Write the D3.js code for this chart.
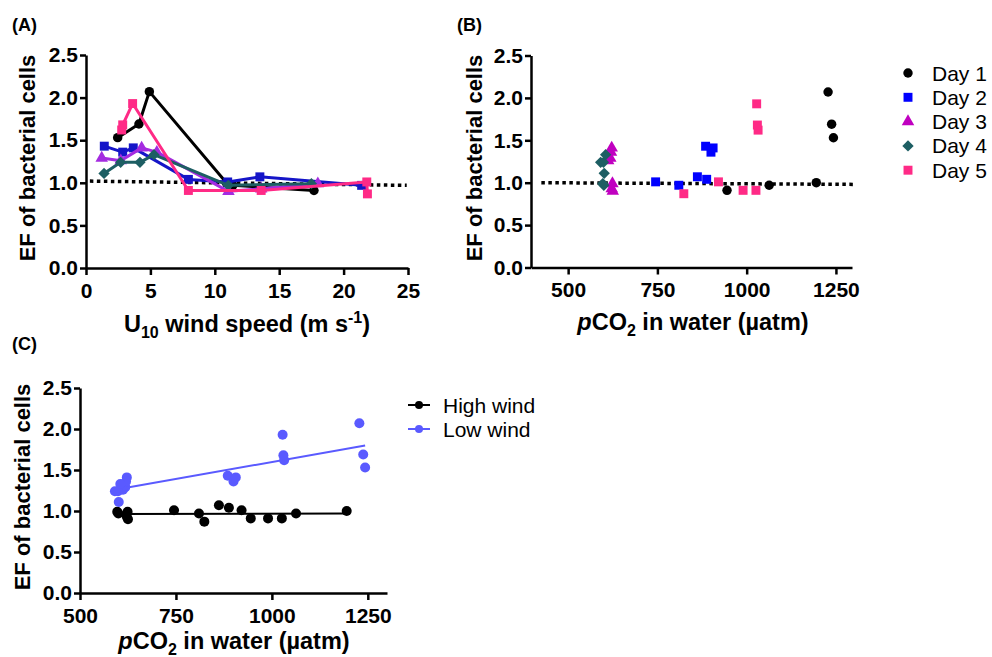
<!DOCTYPE html>
<html>
<head>
<meta charset="utf-8">
<script src="https://cdn.jsdelivr.net/npm/d3@7"></script>
<style>
    body { margin: 0; background: #fff; }
    svg { font-family: "Liberation Sans", Arial, sans-serif; }
    .axis path, .axis line { stroke: #000; stroke-width: 2.5; }
    .axis text { font-size: 21px; font-weight: bold; fill: #000; font-family: "Liberation Sans", Arial, sans-serif; }
</style>
</head>
<body>
<script>
// Day series: wind speed (m/s), pCO2 in water (uatm) and EF
const days = ["Day 1", "Day 2", "Day 3", "Day 4", "Day 5"];

const day1Wind = [2.46, 4.11, 4.92, 10.9, 11.4, 17.7];
const day1Pco2 = [1243, 1238, 1228, 1195, 1063, 945];
const day1Ef   = [1.53, 1.69, 2.07, 1.00, 0.97, 0.91];

const day2Wind = [1.42, 2.85, 3.67, 7.95, 11.0, 13.5, 21.4];
const day2Pco2 = [885, 900, 906, 888, 745, 862, 810];
const day2Ef   = [1.43, 1.36, 1.41, 1.04, 1.01, 1.07, 0.97];

const day3Wind = [1.22, 2.7, 4.32, 5.5, 11.06, 13.6, 18.0];
const day3Pco2 = [618, 612, 622, 620, 625, 622, 624];
const day3Ef   = [1.29, 1.26, 1.41, 1.36, 0.90, 0.93, 0.99];

const day4Wind = [1.4, 2.69, 4.19, 5.28, 11.05, 17.5];
const day4Pco2 = [601, 591, 599, 605, 600, 597];
const day4Ef   = [1.11, 1.24, 1.24, 1.33, 0.97, 0.99];

const day5Wind = [2.77, 2.85, 3.62, 7.95, 13.6, 21.8, 21.85];
const day5Pco2 = [1032, 1030, 1028, 990, 1026, 921, 824];
const day5Ef   = [1.62, 1.68, 1.93, 0.91, 0.91, 1.01, 0.87];

// dotted reference line (ends), panels A and B
const refAWind = [0.3, 24.9];
const refAEf = [1.02, 0.97];
const refBPco2 = [425, 1305];
const refBEf = [1.00, 0.98];

// wind class split used in panel C
const windLabels = ["High wind", "Low wind"];
const highWindFrom = 7;

const yTicks = [0, 0.5, 1.0, 1.5, 2.0, 2.5];
const windTicks = [0, 5, 10, 15, 20, 25];
const pco2Ticks = [500, 750, 1000, 1250];

const lineColors = ["#000000", "#1515c8", "#a42be0", "#1d5e63", "#ff2a86"];
const markColors = ["#000000", "#0000ff", "#c000c0", "#1d5e63", "#ff2a86"];
const windColors = ["#000000", "#5a5aff"];
const symbols = [d3.symbolCircle, d3.symbolSquare, d3.symbolTriangle, d3.symbolSquare, d3.symbolSquare];
const symSizes = [70, 80, 68, 64, 80];
const symRotate = [0, 0, 0, 45, 0];

const series = [
    [day1Wind, day1Pco2, day1Ef],
    [day2Wind, day2Pco2, day2Ef],
    [day3Wind, day3Pco2, day3Ef],
    [day4Wind, day4Pco2, day4Ef],
    [day5Wind, day5Pco2, day5Ef]
].map(([w, p, e], i) => ({
    day: days[i],
    i: i,
    points: w.map((d, j) => ({ wind: d, pco2: p[j], ef: e[j] }))
}));

const svg = d3.select("body").append("svg")
    .attr("width", 992)
    .attr("height", 657);

svg.append("rect").attr("width", 992).attr("height", 657).attr("fill", "#fff");

function symbolPath(i) {
    return d3.symbol().type(symbols[i]).size(symSizes[i])();
}

function drawAxes(x, y, xTicks, xFmt) {
    svg.append("g")
        .attr("class", "axis")
        .attr("transform", `translate(0,${y.range()[0]})`)
        .call(d3.axisBottom(x).tickValues(xTicks).tickFormat(xFmt).tickSize(7).tickSizeOuter(0).tickPadding(8));
    svg.append("g")
        .attr("class", "axis")
        .attr("transform", `translate(${x.range()[0]},0)`)
        .call(d3.axisLeft(y).tickValues(yTicks).tickFormat(d3.format(".1f")).tickSize(6).tickSizeOuter(0).tickPadding(2));
}

function yTitle(cx, cy) {
    svg.append("text")
        .attr("transform", `translate(${cx},${cy}) rotate(-90)`)
        .attr("text-anchor", "middle")
        .style("font-size", "22px")
        .style("font-weight", "bold")
        .text("EF of bacterial cells");
}

function pco2Title(cx, by) {
    const t = svg.append("text")
        .attr("x", cx).attr("y", by)
        .attr("text-anchor", "middle")
        .style("font-size", "23.5px")
        .style("font-weight", "bold");
    t.append("tspan").style("font-style", "italic").text("p");
    t.append("tspan").text("CO");
    t.append("tspan").attr("dy", 6).style("font-size", "16px").text("2");
    t.append("tspan").attr("dy", -6).text(" in water (µatm)");
}

function panelLabel(txt, x, y) {
    svg.append("text").attr("x", x).attr("y", y)
        .style("font-size", "18px").style("font-weight", "bold")
        .text(txt);
}

// ---------- (A) EF vs wind speed ----------
const xA = d3.scaleLinear().domain([0, 25]).range([86, 408]);
const yA = d3.scaleLinear().domain([0, 2.5]).range([268, 55]);

panelLabel("(A)", 12, 31);
drawAxes(xA, yA, windTicks, d3.format("d"));
yTitle(34.5, 158);

const tA = svg.append("text")
    .attr("x", 247).attr("y", 332)
    .attr("text-anchor", "middle")
    .style("font-size", "23.5px")
    .style("font-weight", "bold");
tA.append("tspan").text("U");
tA.append("tspan").attr("dy", 6).style("font-size", "16px").text("10");
tA.append("tspan").attr("dy", -6).text(" wind speed (m s");
tA.append("tspan").attr("dy", -9).style("font-size", "16px").text("-1");
tA.append("tspan").attr("dy", 9).text(")");

svg.append("line")
    .attr("x1", xA(refAWind[0])).attr("x2", xA(refAWind[1]))
    .attr("y1", yA(refAEf[0])).attr("y2", yA(refAEf[1]))
    .attr("stroke", "#000").attr("stroke-width", 3.5)
    .attr("stroke-dasharray", "3.5,3.5");

const lineA = d3.line().x(d => xA(d.wind)).y(d => yA(d.ef));

series.forEach(s => {
    const pts = s.points.slice().sort((a, b) => a.wind - b.wind);
    svg.append("path")
        .datum(pts)
        .attr("d", lineA)
        .attr("fill", "none")
        .attr("stroke", lineColors[s.i])
        .attr("stroke-width", 3)
        .attr("stroke-linejoin", "round");
    svg.append("g").selectAll("path")
        .data(pts)
        .join("path")
        .attr("d", symbolPath(s.i))
        .attr("transform", d => `translate(${xA(d.wind)},${yA(d.ef)}) rotate(${symRotate[s.i]})`)
        .attr("fill", lineColors[s.i]);
});

// ---------- (B) EF vs pCO2 ----------
const xB = d3.scaleLinear().domain([396, 1295]).range([531, 852]);
const yB = d3.scaleLinear().domain([0, 2.5]).range([267.5, 55.5]);

panelLabel("(B)", 457, 31);
drawAxes(xB, yB, pco2Ticks, d3.format("d"));
yTitle(481.5, 158);
pco2Title(693, 330);

svg.append("line")
    .attr("x1", xB(refBPco2[0])).attr("x2", xB(refBPco2[1]))
    .attr("y1", yB(refBEf[0])).attr("y2", yB(refBEf[1]))
    .attr("stroke", "#000").attr("stroke-width", 3.5)
    .attr("stroke-dasharray", "3.5,3.5");

series.forEach(s => {
    svg.append("g").selectAll("path")
        .data(s.points)
        .join("path")
        .attr("d", symbolPath(s.i))
        .attr("transform", d => `translate(${xB(d.pco2)},${yB(d.ef)}) rotate(${symRotate[s.i]})`)
        .attr("fill", markColors[s.i]);
});

// legend B
const legB = svg.append("g").selectAll("g")
    .data(series)
    .join("g")
    .attr("transform", (d, i) => `translate(908,${73 + i * 24.3})`);
legB.append("path")
    .attr("d", d => symbolPath(d.i))
    .attr("transform", d => `rotate(${symRotate[d.i]})`)
    .attr("fill", d => markColors[d.i]);
legB.append("text")
    .attr("x", 24).attr("y", 7.5)
    .style("font-size", "21px")
    .text(d => d.day);

// ---------- (C) EF vs pCO2 by wind class ----------
const xC = d3.scaleLinear().domain([500, 1300]).range([80, 387]);
const yC = d3.scaleLinear().domain([0, 2.5]).range([593, 388]);

panelLabel("(C)", 12, 350);
drawAxes(xC, yC, pco2Ticks, d3.format("d"));
yTitle(30, 487);
pco2Title(234, 649);

const allPts = series.flatMap(s => s.points);
const groups = [
    allPts.filter(d => d.wind >= highWindFrom),
    allPts.filter(d => d.wind < highWindFrom)
];

function linReg(pts) {
    const mx = d3.mean(pts, d => d.pco2), my = d3.mean(pts, d => d.ef);
    const b = d3.sum(pts, d => (d.pco2 - mx) * (d.ef - my)) / d3.sum(pts, d => (d.pco2 - mx) ** 2);
    return v => my + b * (v - mx);
}

groups.forEach((pts, i) => {
    const f = linReg(pts);
    const [x0, x1] = d3.extent(pts, d => d.pco2);
    svg.append("line")
        .attr("x1", xC(x0)).attr("x2", xC(x1))
        .attr("y1", yC(f(x0))).attr("y2", yC(f(x1)))
        .attr("stroke", windColors[i]).attr("stroke-width", 2);
    svg.append("g").selectAll("circle")
        .data(pts)
        .join("circle")
        .attr("cx", d => xC(d.pco2))
        .attr("cy", d => yC(d.ef))
        .attr("r", 5)
        .attr("fill", windColors[i]);
});

// legend C
const legC = svg.append("g").selectAll("g")
    .data(windLabels)
    .join("g")
    .attr("transform", (d, i) => `translate(408,${405 + i * 24})`);
legC.append("line")
    .attr("x1", 0).attr("x2", 22)
    .attr("stroke", (d, i) => windColors[i]).attr("stroke-width", 2);
legC.append("circle")
    .attr("cx", 11).attr("r", 4)
    .attr("fill", (d, i) => windColors[i]);
legC.append("text")
    .attr("x", 35).attr("y", 7.5)
    .style("font-size", "21px")
    .text(d => d);
</script>
</body>
</html>
